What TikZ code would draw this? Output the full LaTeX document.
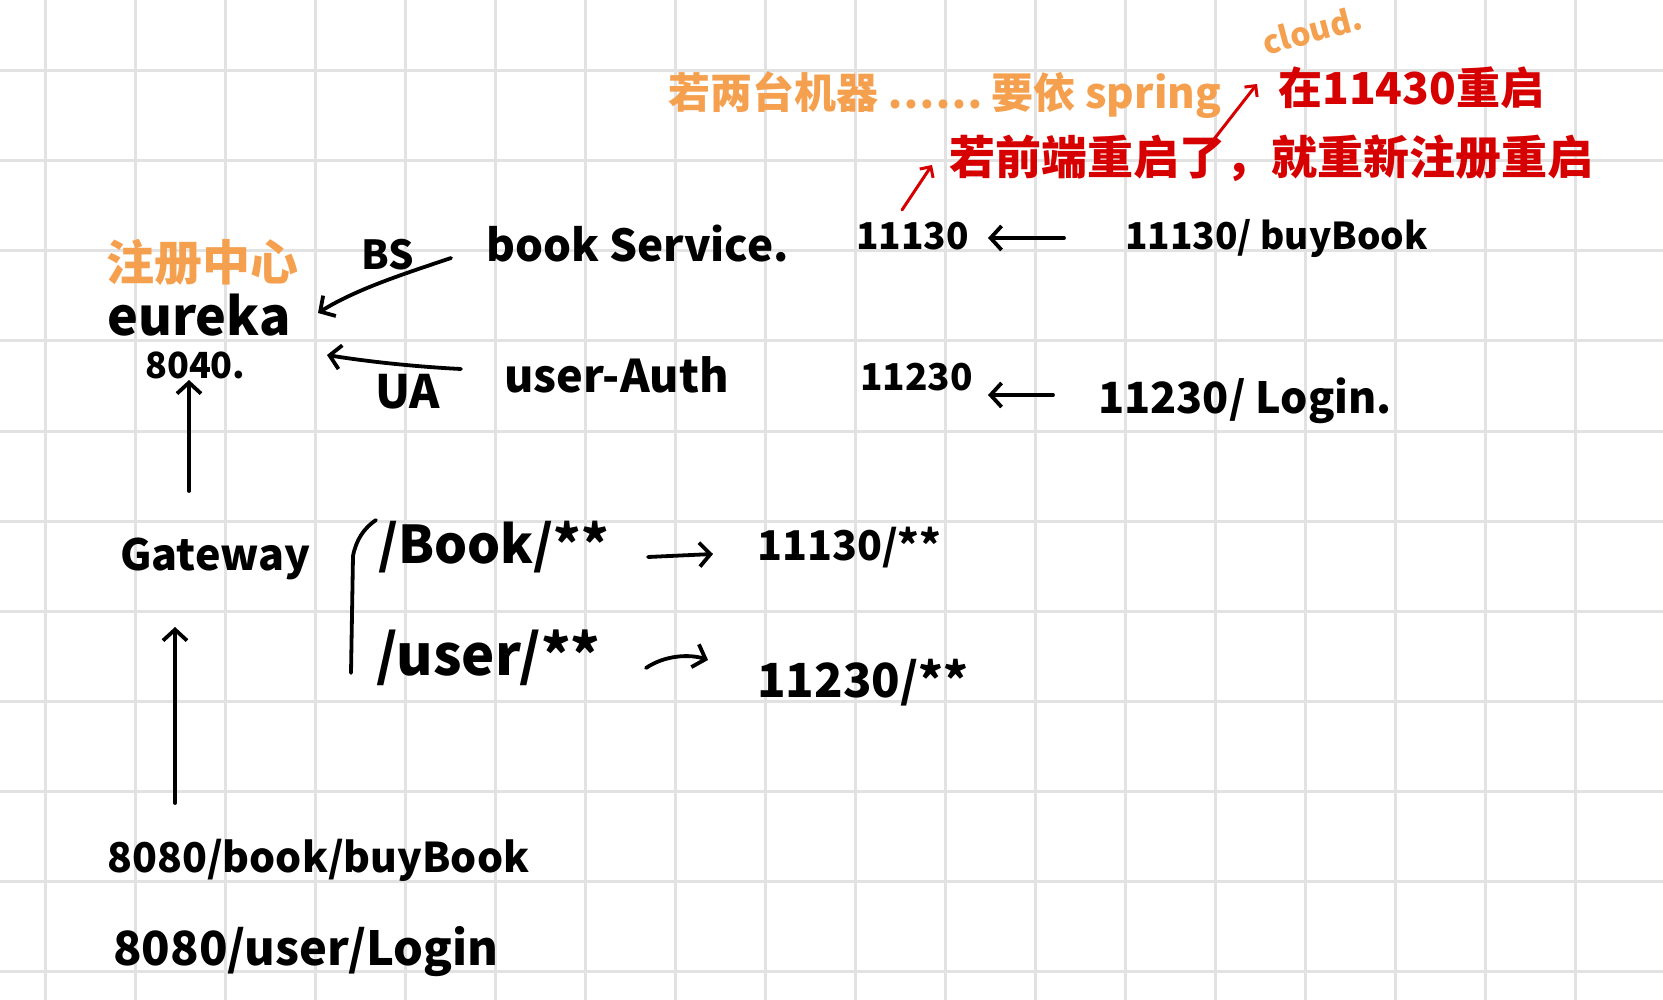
\documentclass[tikz,border=0pt]{standalone}
\usepackage{fontspec}
\setmainfont{Noto Sans CJK SC}
\usetikzlibrary{arrows.meta}
\definecolor{gridc}{HTML}{E2E2E2}
\definecolor{orng}{HTML}{F5A04F}
\definecolor{rd}{HTML}{D60000}
\newcommand\hfs[1]{\fontsize{#1}{#1}\selectfont\bfseries}
\begin{document}
\begin{tikzpicture}[x=1pt,y=-1pt,
  ink/.style={line width=3.8pt,line cap=round,line join=round},
  arr/.style={ink,-{Straight Barb[length=11pt,width=24pt]}},
  redarr/.style={rd,line width=3pt,line cap=round,line join=round,-{Straight Barb[length=8pt,width=16pt]}},
  lt/.style={anchor=base west,inner sep=0pt,font=\hfs{#1}},
  ct/.style={anchor=west,inner sep=0pt,font=\hfs{#1}},
]
\fill[white] (0,0) rectangle (1663,1000);
\useasboundingbox (0,0) rectangle (1663,1000);
% grid
\foreach \i in {0,...,17} \draw[gridc,line width=3pt] ({45+90*\i},0) -- ({45+90*\i},1000);
\foreach \j in {0,...,10} \draw[gridc,line width=3pt] (0,{71+90*\j}) -- (1663,{71+90*\j});

% top notes
\node[ct=42,text=orng] (note1) at (668,95) {若两台机器 …… 要依 spring};
\node[inner sep=0pt,font=\hfs{32},text=orng,rotate=15] (cloud) at (1312,30) {cloud.};
\node[ct=44,text=rd] (note2) at (1278,88) {在11430重启};
\node[ct=46,text=rd] (note3) at (949,158) {若前端重启了，就重新注册重启};
\coordinate (r1s) at (1211,143);
\coordinate (r1e) at (1257,84);
\coordinate (r2s) at (902,210);
\coordinate (r2e) at (932,165);
\draw[redarr] (r1s) -- (r1e);
\draw[redarr] (r2s) -- (r2e);

% registry
\node[ct=48,text=orng] (reg) at (106,262) {注册中心};
\node[lt=52] (eureka) at (107,336) {eureka};
\node[lt=36] (p8040) at (145,378) {8040.};

% services
\node[lt=40] (bs) at (361,270) {BS};
\node[lt=44] (booksvc) at (486,262) {book Service.};
\node[lt=37] (p11130) at (856,250) {11130};
\node[lt=37] (buy) at (1125,250) {11130/ buyBook};

\node[lt=46] (ua) at (375,408) {UA};
\node[lt=45] (userauth) at (504,392) {user-Auth};
\node[lt=37] (p11230) at (860,390) {11230};
\node[lt=43] (login) at (1098,413) {11230/ Login.};

\coordinate (bsS) at (451,258);
\coordinate (bsE) at (318,313);
\coordinate (uaS) at (461,369);
\coordinate (uaE) at (327,355);
\coordinate (l1s) at (1064,238);
\coordinate (l1e) at (988,238);
\coordinate (l2s) at (1053,395);
\coordinate (l2e) at (988,395);
\draw[arr] (bsS) .. controls (410,272) and (358,288) .. (bsE);
\draw[arr] (uaS) .. controls (420,367) and (370,362) .. (uaE);
\draw[arr] (l1s) -- (l1e);
\draw[arr] (l2s) -- (l2e);

% gateway
\node[lt=43] (gw) at (120,570) {Gateway};
\coordinate (g1s) at (189,491);
\coordinate (g1e) at (189,380);
\draw[arr] (g1s) -- (g1e);
\draw[ink] (376,520) .. controls (364,528) and (356,540) .. (353,556) -- (351,673);
\node[lt=52] (rbook) at (378,563) {/Book/**};
\node[lt=41] (tbook) at (757,560) {11130/**};
\node[lt=56] (ruser) at (376,675) {/user/**};
\node[lt=47] (tuser) at (757,697) {11230/**};
\coordinate (b1s) at (648,557);
\coordinate (b1e) at (713,554);
\coordinate (u1s) at (646,668);
\coordinate (u1e) at (708,660);
\draw[arr] (b1s) -- (b1e);
\draw[arr] (u1s) .. controls (665,655) and (690,654) .. (u1e);

% requests
\coordinate (q1s) at (175,803);
\coordinate (q1e) at (175,627);
\draw[arr] (q1s) -- (q1e);
\node[lt=41] (req1) at (107,872) {8080/book/buyBook};
\node[lt=47] (req2) at (113,965) {8080/user/Login};
\end{tikzpicture}
\end{document}
